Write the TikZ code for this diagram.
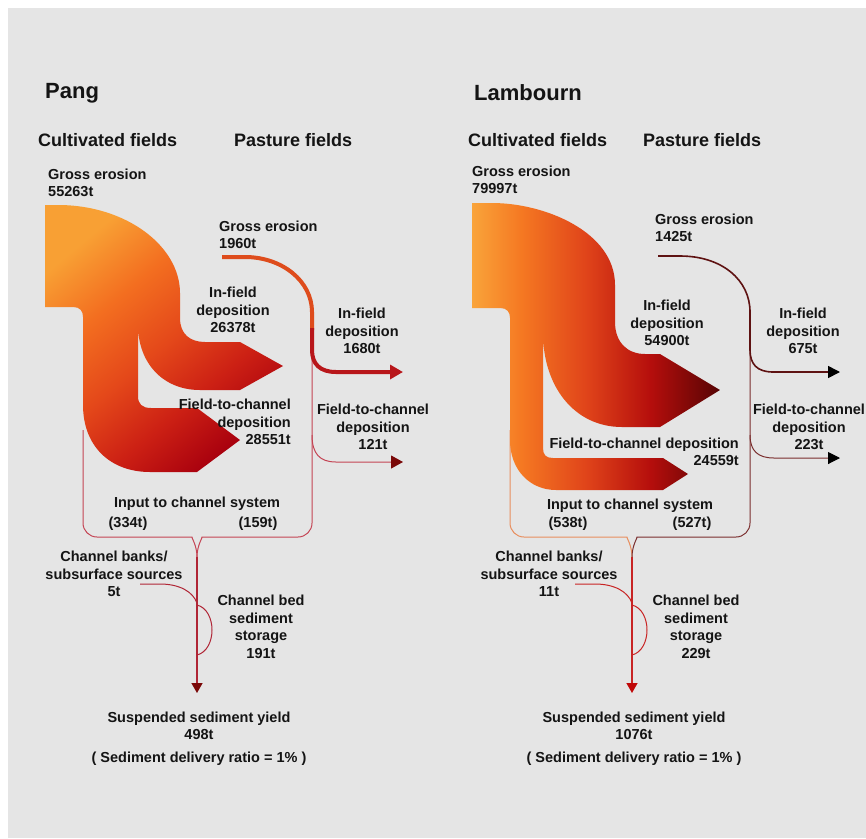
\documentclass[tikz,border=0pt]{standalone}
\usepackage{fontspec}
\setmainfont{Liberation Sans}
\usetikzlibrary{arrows.meta}

\definecolor{bggray}{HTML}{E5E5E5}
\definecolor{txt}{HTML}{141414}
\definecolor{pA}{HTML}{F8A034}
\definecolor{pB}{HTML}{F36E20}
\definecolor{pC}{HTML}{E4481A}
\definecolor{pD}{HTML}{CC2014}
\definecolor{pE}{HTML}{A8000E}
\definecolor{lA}{HTML}{F9A43A}
\definecolor{lB}{HTML}{F57822}
\definecolor{lC}{HTML}{E0441A}
\definecolor{lD}{HTML}{B50E0C}
\definecolor{lE}{HTML}{560404}
\definecolor{pLine}{HTML}{C44454}
\definecolor{pMain}{HTML}{B02636}
\definecolor{pTip}{HTML}{7A0808}
\definecolor{pPastA}{HTML}{DE4C1C}
\definecolor{pPastB}{HTML}{B8161A}
\definecolor{lLeft}{HTML}{E88E5E}
\definecolor{lRight}{HTML}{7A2E2E}
\definecolor{lMain}{HTML}{C82424}
\definecolor{lTip}{HTML}{C00808}
\definecolor{lPast}{HTML}{5E1212}

\pgfdeclareverticalshading{pangflow}{100bp}{color(0bp)=(pE); color(25bp)=(pE);
  color(37bp)=(pD); color(49bp)=(pC); color(62bp)=(pB); color(75bp)=(pA); color(100bp)=(pA)}
\pgfdeclarehorizontalshading{lambournflow}{100bp}{color(0bp)=(lA); color(25bp)=(lA);
  color(35bp)=(lB); color(48bp)=(lC); color(61bp)=(lD); color(75bp)=(lE); color(100bp)=(lE)}

\tikzstyle{lbl}=[
  font=\fontsize{14.5}{17.5}\selectfont\bfseries,
  text=txt,
  inner sep=0pt,
  align=center
]
\tikzstyle{colhead}=[
  font=\fontsize{18}{22}\selectfont\bfseries,
  text=txt,
  inner sep=0pt,
  anchor=west
]
\tikzstyle{rivername}=[
  font=\fontsize{22}{26}\selectfont\bfseries,
  text=txt,
  inner sep=0pt,
  anchor=west
]
\tikzstyle{feeder}=[
  line width=1pt,
  rounded corners=14pt
]
\tikzstyle{arrowtip}=[
  -{Triangle[length=12pt,width=12pt]}
]
\newcommand{\drawchannel}[7]{{
  \coordinate (#1merge) at (#2,557);
  \coordinate (#1out)   at (#2,693);
  \coordinate (#1bank)  at (#2-57,584);

  \draw[#3, line width=1.4pt, -{Triangle[length=10pt,width=11pt,color=#4]}] (#1merge) -- (#1out);
  \draw[#3, line width=1pt] (#1bank) -- (#2-37,584) .. controls (#2-17,584) and (#2-4,592) .. (#2,603);
  \draw[#3, line width=1pt] (#2,605) .. controls (#2+20,610) and (#2+20,650) .. (#2,655);

  \node[lbl] (#1banks) at (#2-83,574) {Channel banks/\\subsurface sources\\#5};
  \node[lbl] (#1bed)   at (#2+64,627) {Channel bed\\sediment\\storage\\#6};
  \node[lbl] (#1yield) at (#2+2,726)  {Suspended sediment yield\\#7};
  \node[lbl] (#1ratio) at (#2+2,759)  {( Sediment delivery ratio = 1\% )};
}}

\begin{document}
\begin{tikzpicture}[x=1pt, y=-1pt]
  \useasboundingbox (0,0) rectangle (866,838);
  \fill[bggray] (8,8) rectangle (866,838);

  % Pang
  \node[rivername] (pang)  at (45,93)   {Pang};
  \node[colhead]   (pcult) at (38,140)  {Cultivated fields};
  \node[colhead]   (ppast) at (234,140) {Pasture fields};

  \drawchannel{p}{197}{pMain}{pTip}{5t}{191t}{498t}
  \coordinate (pinf) at (403,372);
  \coordinate (pf2c) at (403,462);

  \draw[pLine, feeder] (83,430) -- (83,537) -- (178,537) .. controls (191,537) and (197,545) .. (pmerge);
  \draw[pLine, feeder] (312,340) -- (312,537) -- (216,537) .. controls (203,537) and (197,545) .. (pmerge);
  \draw[pLine, line width=1pt, arrowtip, -{Triangle[length=12pt,width=13pt,color=pTip]}]
    (312,435) .. controls (312,454) and (320,462) .. (336,462) -- (pf2c);

  \path[shading=pangflow, shading angle=40]
    (45,205) -- (58,205) .. controls (126,205) and (180,246) .. (180,293) -- (180,318)
    .. controls (180,334) and (190,342) .. (205,342) -- (240,342) -- (283,366) -- (240,390)
    -- (200,390) .. controls (162,390) and (138,362) .. (138,325) -- (138,396)
    .. controls (138,404) and (142,408) .. (151,408) -- (197,408) -- (240,440) -- (197,472)
    -- (150,472) .. controls (110,472) and (83,446) .. (83,405) -- (83,317)
    .. controls (83,311) and (80,307) .. (73,307) -- (45,307) -- cycle;

  \draw[pPastA, line width=4pt] (222,257) -- (245,257) .. controls (282,257) and (312,281) .. (312,312) -- (312,330);
  \draw[pPastB, line width=4pt, -{Triangle[length=13pt,width=14pt]}]
    (312,328) -- (312,350) .. controls (312,364) and (320,372) .. (336,372) -- (pinf);

  \node[lbl, align=left, anchor=west] (pgross)  at (48,183)  {Gross erosion\\55263t};
  \node[lbl, align=left, anchor=west] (pgross2) at (219,235) {Gross erosion\\1960t};
  \node[lbl] (pinfield)  at (233,310) {In-field\\deposition\\26378t};
  \node[lbl] (pinfield2) at (362,331) {In-field\\deposition\\1680t};
  \node[lbl, align=right, anchor=east] (pfield) at (291,422) {Field-to-channel\\deposition\\28551t};
  \node[lbl] (pfield2) at (373,427) {Field-to-channel\\deposition\\121t};
  \node[lbl] (pinput) at (197,504) {Input to channel system};
  \node[lbl] (pinl)   at (128,524) {(334t)};
  \node[lbl] (pinr)   at (258,524) {(159t)};

  % Lambourn
  \node[rivername] (lamb)  at (474,93)  {Lambourn};
  \node[colhead]   (lcult) at (468,140) {Cultivated fields};
  \node[colhead]   (lpast) at (643,140) {Pasture fields};

  \drawchannel{l}{632}{lMain}{lTip}{11t}{229t}{1076t}
  \coordinate (linf) at (840,372);
  \coordinate (lf2c) at (840,458);

  \draw[lLeft, feeder] (510,430) -- (510,537) -- (613,537) .. controls (626,537) and (632,545) .. (lmerge);
  \draw[lRight, feeder] (750,340) -- (750,537) -- (651,537) .. controls (638,537) and (632,545) .. (lmerge);
  \draw[lRight, line width=1pt, -{Triangle[length=12pt,width=12pt,color=black]}]
    (750,435) .. controls (750,451) and (758,458) .. (774,458) -- (lf2c);

  \path[shading=lambournflow]
    (472,203) -- (492,203) .. controls (545,203) and (615,232) .. (615,285) -- (615,322)
    .. controls (615,342) and (627,354) .. (645,354) -- (660,354) -- (720,390) -- (660,427)
    -- (622,427) .. controls (574,427) and (543,386) .. (543,333) -- (543,448)
    .. controls (543,455) and (546,458) .. (553,458) -- (663,458) -- (688,474) -- (663,490)
    -- (556,490) .. controls (530,490) and (510,470) .. (510,440) -- (510,318)
    .. controls (510,312) and (507,308) .. (500,308) -- (472,308) -- cycle;

  \draw[lPast, line width=1.6pt, -{Triangle[length=12pt,width=12pt,color=black]}]
    (658,256) -- (680,256) .. controls (722,256) and (750,280) .. (750,312) -- (750,350)
    .. controls (750,364) and (757,372) .. (773,372) -- (linf);

  \node[lbl, align=left, anchor=west] (lgross)  at (472,180) {Gross erosion\\79997t};
  \node[lbl, align=left, anchor=west] (lgross2) at (655,228) {Gross erosion\\1425t};
  \node[lbl] (linfield)  at (667,323) {In-field\\deposition\\54900t};
  \node[lbl] (linfield2) at (803,331) {In-field\\deposition\\675t};
  \node[lbl, align=right, anchor=east] (lfield) at (739,452) {Field-to-channel deposition\\24559t};
  \node[lbl] (lfield2) at (809,427) {Field-to-channel\\deposition\\223t};
  \node[lbl] (linput) at (630,506) {Input to channel system};
  \node[lbl] (linl)   at (568,524) {(538t)};
  \node[lbl] (linr)   at (692,524) {(527t)};
\end{tikzpicture}
\end{document}
